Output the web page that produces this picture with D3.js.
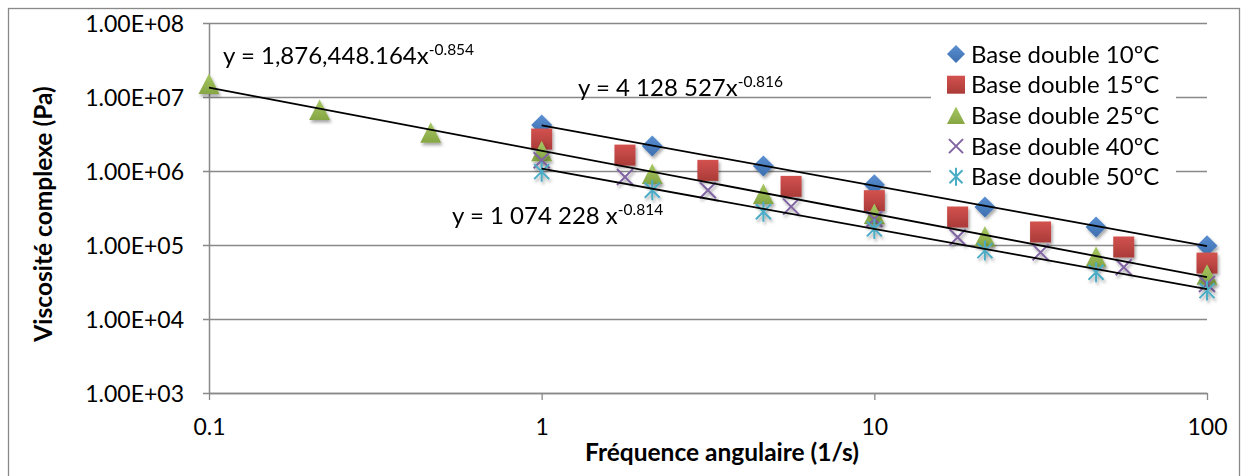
<!DOCTYPE html>
<html><head><meta charset="utf-8">
<script src="https://cdn.jsdelivr.net/npm/d3@7"></script>
<style>
body{margin:0;background:#fff}
svg{display:block}
text{font-family:Lato,'Liberation Sans',sans-serif;fill:#000}
</style>
</head><body><svg id="c" width="1247" height="476"></svg>
<script>
// ---------- data ----------
const seriesNames = ["Base double 10ºC","Base double 15ºC","Base double 25ºC","Base double 40ºC","Base double 50ºC"];
const freq7  = [1, 2.15, 4.64, 10, 21.5, 46.4, 100];
const freq10 = [0.1, 0.215, 0.464, 1, 2.15, 4.64, 10, 21.5, 46.4, 100];
const freq9  = [1, 1.78, 3.16, 5.62, 10, 17.8, 31.6, 56.2, 100];
const visc10C = [4.2e6, 2.18e6, 1.17e6, 6.5e5, 3.27e5, 1.75e5, 9.8e4];
const visc15C = [2.7e6, 1.64e6, 1.02e6, 6.2e5, 3.97e5, 2.39e5, 1.5e5, 9.4e4, 5.7e4];
const visc25C = [1.5e7, 6.67e6, 3.3e6, 1.85e6, 9.1e5, 4.9e5, 2.62e5, 1.3e5, 6.95e4, 3.97e4];
const visc40C = [1.4e6, 8.3e5, 5.5e5, 3.3e5, 2.24e5, 1.27e5, 7.96e4, 5.0e4, 2.97e4];
const visc50C = [9.8e5, 5.5e5, 2.82e5, 1.65e5, 8.4e4, 4.28e4, 2.42e4];
const xTickValues = [0.1, 1, 10, 100];
const xTickLabels = ["0.1", "1", "10", "100"];
const yTickValues = [1e3, 1e4, 1e5, 1e6, 1e7, 1e8];
const yTickLabels = ["1.00E+03", "1.00E+04", "1.00E+05", "1.00E+06", "1.00E+07", "1.00E+08"];
const trendCoef = [4128527, 1876448.164, 1074228];
const trendExp  = [-0.816, -0.854, -0.814];
const trendFrom = [1, 0.1, 1];
const trendTo   = [100, 100, 100];
const trendLabelMain = ["y = 4 128 527x", "y = 1,876,448.164x", "y = 1 074 228 x"];
const trendLabelSup  = ["-0.816", "-0.854", "-0.814"];
const xTitle = "Fréquence angulaire (1/s)";
const yTitle = "Viscosité complexe (Pa)";

// ---------- layout ----------
const L = 209, R = 1207, T = 23, B = 393;
const x = d3.scaleLog().domain([0.1, 100]).range([L, R]);
const y = d3.scaleLog().domain([1e3, 1e8]).range([B, T]);
const svg = d3.select("#c");
const gridCol = "#898989";
const FONT = "Lato,'Liberation Sans',sans-serif";

const defs = svg.append("defs");
const f = defs.append("filter").attr("id","sh").attr("x","-50%").attr("y","-50%").attr("width","200%").attr("height","200%");
f.append("feDropShadow").attr("dx",1.5).attr("dy",2.5).attr("stdDeviation",1.5).attr("flood-color","#000").attr("flood-opacity",0.35);
function grad(id, c1, c2){
  const g = defs.append("linearGradient").attr("id",id).attr("x1",0).attr("y1",0).attr("x2",0).attr("y2",1);
  g.append("stop").attr("offset","0%").attr("stop-color",c1);
  g.append("stop").attr("offset","100%").attr("stop-color",c2);
}
grad("gB","#5a8fd2","#3d6fae");
grad("gR","#d3524f","#aa3b38");
grad("gG","#a6c862","#86a644");

// outer border
svg.append("rect").attr("x",8.5).attr("y",8.5).attr("width",1231).attr("height",480)
  .attr("fill","none").attr("stroke",gridCol).attr("stroke-width",1.3);

// y gridlines + axis
const yAxis = d3.axisLeft(y).tickValues(yTickValues).tickSize(-(R - L)).tickSizeOuter(0)
  .tickFormat((d,i) => yTickLabels[i]).tickPadding(0);
const gy = svg.append("g").attr("transform",`translate(${L},0)`).call(yAxis);
gy.select(".domain").attr("stroke",gridCol).attr("stroke-width",1.5);
gy.selectAll(".tick line").attr("stroke",gridCol).attr("stroke-width",1.6).attr("x1",-6);
gy.selectAll(".tick text").attr("x",-25).attr("dy","0.36em").attr("font-size",23).attr("text-anchor","end");

// x axis
const xAxis = d3.axisBottom(x).tickValues(xTickValues).tickSize(7).tickSizeOuter(0)
  .tickFormat((d,i) => xTickLabels[i]);
const gx = svg.append("g").attr("transform",`translate(0,${B})`).call(xAxis);
gx.select(".domain").attr("stroke",gridCol).attr("stroke-width",1.6);
gx.selectAll(".tick line").attr("stroke",gridCol).attr("stroke-width",1.3);
gx.selectAll(".tick text").attr("y",34).attr("dy","0.36em").attr("font-size",23);
svg.selectAll(".tick text").attr("font-family",FONT).attr("fill","#000");

// titles
svg.append("text").attr("x",722).attr("y",461).attr("text-anchor","middle")
  .attr("font-weight","bold").attr("font-size",24.5).text(xTitle);
svg.append("text").attr("transform",`translate(52,214) rotate(-90)`)
  .attr("text-anchor","middle").attr("font-weight","bold").attr("font-size",24.5).text(yTitle);

// markers
const shapes = {
  diamond: g => g.append("path").attr("d","M0,-10.5L10.5,0L0,10.5L-10.5,0Z").attr("fill","url(#gB)"),
  square:  g => g.append("rect").attr("x",-10.5).attr("y",-10.5).attr("width",21).attr("height",21).attr("fill","url(#gR)"),
  triangle:g => g.append("path").attr("d","M0,-10.5L10.5,10L-10.5,10Z").attr("fill","url(#gG)"),
  cross:   g => g.append("path").attr("d","M-8,-8L8,8M-8,8L8,-8").attr("stroke","#8064a2").attr("stroke-width",2).attr("fill","none"),
  star:    g => g.append("path").attr("d","M-7.5,-7.5L7.5,7.5M-7.5,7.5L7.5,-7.5M0,-10L0,10").attr("stroke","#4bacc6").attr("stroke-width",2).attr("fill","none")
};
const series = [
  {xs: freq7,  ys: visc10C, shape: "diamond"},
  {xs: freq9,  ys: visc15C, shape: "square"},
  {xs: freq10, ys: visc25C, shape: "triangle"},
  {xs: freq9,  ys: visc40C, shape: "cross"},
  {xs: freq7,  ys: visc50C, shape: "star"}
];
series.forEach(s => {
  const g = svg.append("g").attr("filter","url(#sh)");
  s.xs.forEach((xv,i) => {
    const m = g.append("g").attr("transform",`translate(${x(xv)},${y(s.ys[i])})`);
    shapes[s.shape](m);
  });
});

// trend lines
trendCoef.forEach((c,i) => {
  const pts = [trendFrom[i], trendTo[i]].map(v => [x(v), y(c*Math.pow(v, trendExp[i]))]);
  svg.append("path").attr("d", d3.line()(pts)).attr("stroke","#000").attr("stroke-width",1.8).attr("fill","none");
});

// trend labels
const labelPos = [[578, 96], [223, 64], [452, 224]];
trendLabelMain.forEach((t,i) => {
  const tx = svg.append("text").attr("x",labelPos[i][0]).attr("y",labelPos[i][1]).attr("font-size",24);
  tx.append("tspan").text(t);
  tx.append("tspan").attr("dy",-9).attr("font-size",15.5).text(trendLabelSup[i]);
});

// legend
svg.append("rect").attr("x",931).attr("y",38).attr("width",245).attr("height",154).attr("fill","#fff");
const legShapes = {
  diamond: g => g.append("path").attr("d","M0,-9L9,0L0,9L-9,0Z").attr("fill","url(#gB)"),
  square:  g => g.append("rect").attr("x",-9).attr("y",-9).attr("width",18).attr("height",18).attr("fill","url(#gR)"),
  triangle:g => g.append("path").attr("d","M0,-9L9,8.5L-9,8.5Z").attr("fill","url(#gG)"),
  cross:   g => g.append("path").attr("d","M-7,-7L7,7M-7,7L7,-7").attr("stroke","#8064a2").attr("stroke-width",2).attr("fill","none"),
  star:    g => g.append("path").attr("d","M-6.5,-6.5L6.5,6.5M-6.5,6.5L6.5,-6.5M0,-9L0,9").attr("stroke","#4bacc6").attr("stroke-width",2).attr("fill","none")
};
seriesNames.forEach((n,i) => {
  const yy = 54 + i*30.7;
  const g = svg.append("g").attr("transform",`translate(956,${yy})`);
  legShapes[series[i].shape](g);
  svg.append("text").attr("x",971).attr("y",yy).attr("dy","0.36em").attr("font-size",24).text(n);
});
</script>
</body></html>
